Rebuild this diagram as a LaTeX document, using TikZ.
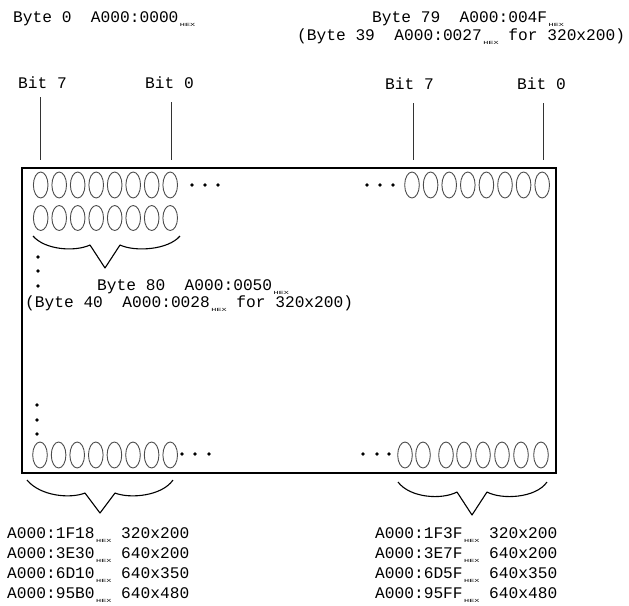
\documentclass[tikz,border=0pt]{standalone}
\usepackage{fontspec}
\usepackage{graphicx}
\setmainfont{Liberation Mono}
\newcommand{\hx}{\kern1.5pt\smash{\raisebox{-4.5pt}{\scalebox{1}[0.55]{\fontsize{8.5}{8.5}\selectfont HEX}}}}
\begin{document}
\begin{tikzpicture}[x=1pt,y=-1pt,
  txt/.style={anchor=base west, inner sep=0pt, font=\fontsize{16.2}{18}\selectfont},
  bitc/.style={draw=black!70, line width=0.9pt},
  tick/.style={draw=black!80, line width=0.8pt},
  brace/.style={draw=black, line width=1.1pt, line join=round},
  frame/.style={draw=black, line width=1.8pt},
  dotc/.style={fill=black}]
\useasboundingbox (0,0) rectangle (629,605);

% top labels
\node[txt] (b0) at (13,22) {Byte 0\ \ A000:0000\hx};
\node[txt] (b79) at (372,22) {Byte 79\ \ A000:004F\hx};
\node[txt] (b39) at (297,40) {(Byte 39\ \ A000:0027\hx\ for 320x200)};

% bit labels
\node[txt] (l7) at (18,88) {Bit 7};
\node[txt] (l0) at (145,88) {Bit 0};
\node[txt] (r7) at (385,89) {Bit 7};
\node[txt] (r0) at (517,89) {Bit 0};

\coordinate (l7t) at (40.7,97);  \coordinate (l7b) at (40.7,160);
\coordinate (l0t) at (171,102);  \coordinate (l0b) at (171,160);
\coordinate (r7t) at (413,103);  \coordinate (r7b) at (413,160);
\coordinate (r0t) at (543,103);  \coordinate (r0b) at (543,160);
\draw[tick] (l7t) -- (l7b);
\draw[tick] (l0t) -- (l0b);
\draw[tick] (r7t) -- (r7b);
\draw[tick] (r0t) -- (r0b);

% frame
\draw[frame] (22,168) rectangle (556,473);

% bit rows
\foreach \i in {0,...,7} {
  \draw[bitc] (40.7+18.5*\i,185) ellipse [x radius=7.3pt, y radius=13pt];
  \draw[bitc] (40.7+18.5*\i,218) ellipse [x radius=7.3pt, y radius=12.5pt];
  \draw[bitc] (412+18.6*\i,185) ellipse [x radius=7.3pt, y radius=13pt];
  \draw[bitc] (40+18.6*\i,455) ellipse [x radius=7.3pt, y radius=13pt];
}
\foreach \x in {405,423,446,464,483,502,521,541}
  \draw[bitc] (\x,455) ellipse [x radius=7.3pt, y radius=13pt];

% dots
\foreach \p in {(192,185),(205,185),(218,185),(367,185),(380,185),(393,185),
                (182,454),(195,454),(209,454),(363,454),(377,454),(389,454),
                (38,257),(38,271),(38,286),(37,405),(37,420),(37,434)}
  \fill[dotc] \p circle (1.9pt);

% braces
\draw[brace] (33,236) .. controls (45,250) and (75,252) .. (90,245) -- (105,268) -- (120,245) .. controls (135,252) and (168,250) .. (180,236);
\draw[brace] (27,480) .. controls (40,496) and (70,499) .. (85,493) -- (100,513) -- (115,493) .. controls (130,499) and (162,496) .. (173,480);
\draw[brace] (398,482) .. controls (410,498) and (442,500) .. (457,492) -- (472,515) -- (487,492) .. controls (502,500) and (536,498) .. (547,482);

% byte 80 labels
\node[txt] (b80) at (97,290) {Byte 80\ \ A000:0050\hx};
\node[txt] (b40) at (25,307) {(Byte 40\ \ A000:0028\hx\ for 320x200)};

% bottom labels
\node[txt] (a1) at (7,538) {A000:1F18\hx\ 320x200};
\node[txt] (a2) at (7,558) {A000:3E30\hx\ 640x200};
\node[txt] (a3) at (7,578) {A000:6D10\hx\ 640x350};
\node[txt] (a4) at (7,598) {A000:95B0\hx\ 640x480};
\node[txt] (c1) at (375,538) {A000:1F3F\hx\ 320x200};
\node[txt] (c2) at (375,558) {A000:3E7F\hx\ 640x200};
\node[txt] (c3) at (375,578) {A000:6D5F\hx\ 640x350};
\node[txt] (c4) at (375,598) {A000:95FF\hx\ 640x480};
\end{tikzpicture}
\end{document}
